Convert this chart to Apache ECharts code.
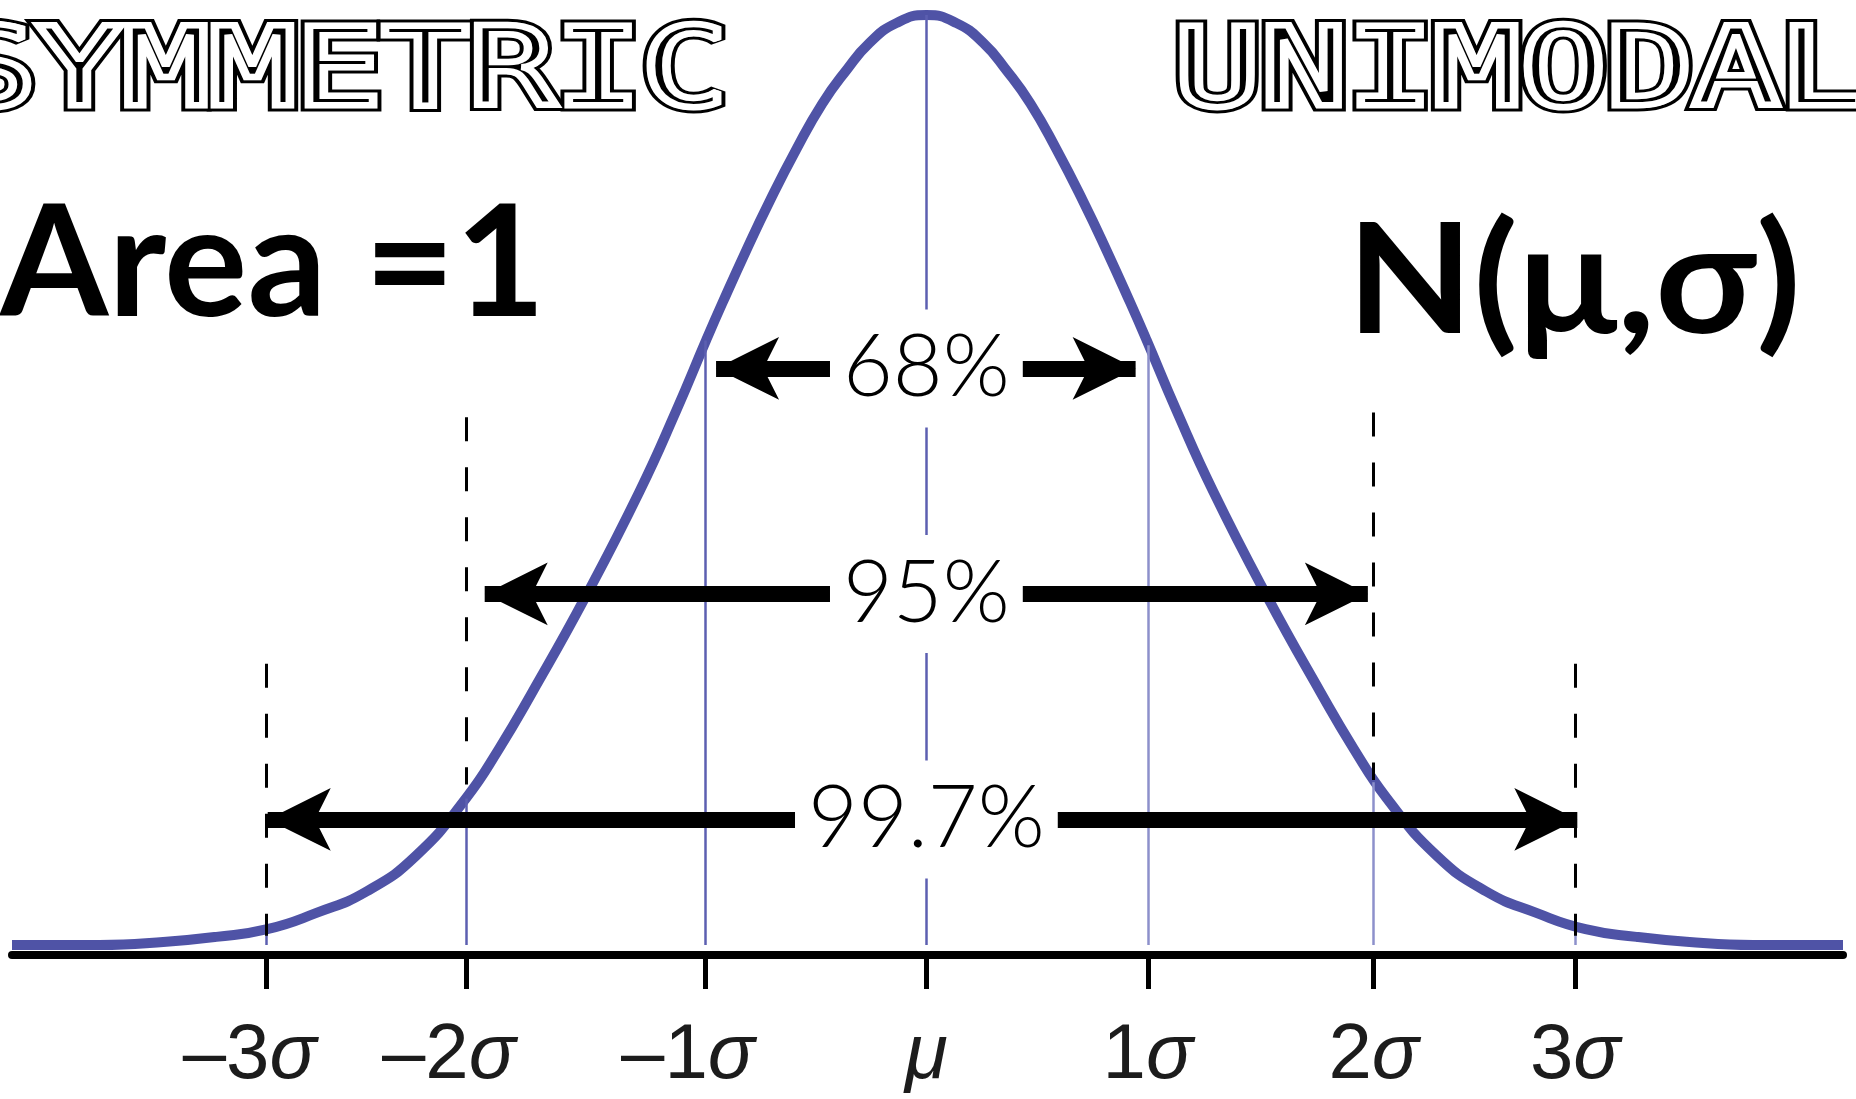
<!DOCTYPE html>
<html>
<head>
<meta charset="utf-8">
<title>Normal distribution</title>
<script src="https://cdn.jsdelivr.net/npm/echarts@6/dist/echarts.min.js"></script>
<style>
  html, body { margin: 0; padding: 0; background: #fff; }
  #chart { width: 1856px; height: 1099px; }
</style>
</head>
<body>
<div id="chart"></div>
<script>
// x in sigma units (as placed in the picture), y = curve height
const curveSigma = [-4.13, -3.735, -3.433, -3.207, -2.977, -2.755, -2.529, -2.304, -2.078, -1.929, -1.780, -1.540, -1.296, -1.129, -0.994, -0.921, -0.813, -0.709, -0.587, -0.470, -0.361, -0.258, -0.136, 0,
  0.136, 0.258, 0.361, 0.470, 0.587, 0.709, 0.813, 0.921, 0.994, 1.129, 1.296, 1.540, 1.780, 1.929, 2.078, 2.304, 2.529, 2.755, 2.977, 3.207, 3.433, 3.735, 4.14];
const curveDensity = [0, 0, 0.0014, 0.0035, 0.0068, 0.0138, 0.0230, 0.0385, 0.0633, 0.0846, 0.1087, 0.1497, 0.1950, 0.2300, 0.2603, 0.2762, 0.2989, 0.3197, 0.3423, 0.3619, 0.3763, 0.3879, 0.3965, 0.4000,
  0.3965, 0.3879, 0.3763, 0.3619, 0.3423, 0.3197, 0.2989, 0.2762, 0.2603, 0.2300, 0.1950, 0.1497, 0.1087, 0.0846, 0.0633, 0.0385, 0.0230, 0.0138, 0.0068, 0.0035, 0.0014, 0, 0];

// tick positions and labels
const sigmaTicks = [-2.98, -2.08, -1.0, 0, 1.0, 2.02, 2.93];
const tickLabels = ['–3σ', '–2σ', '–1σ', 'μ', '1σ', '2σ', '3σ'];
// height where each blue drop line meets the curve
const dropTop = [0.0068, 0.063, 0.260, 0.400, 0.258, 0.070, 0.008];

// dashed guides: x, top, bottom
const guideX = [-2.98, -2.08, 2.02, 2.93];
const guideTop = [0.121, 0.227, 0.229, 0.121];
const guideBottom = [0.004, 0.069, 0.071, 0.004];

// double arrows
const arrowLabels = ['68%', '95%', '99.7%'];
const arrowLevel = [0.248, 0.151, 0.054];
const arrowFrom = [-0.95, -1.995, -2.975];
const arrowTo = [0.945, 1.994, 2.94];

const chart = echarts.init(document.getElementById('chart'));

const tickFont = "'Liberation Sans Narrow', 'Liberation Sans', Arial, sans-serif";

// outline lettering: thin black core, white band, thin black outer ring
function outlined(text, x, y, align) {
  const base = {
    text: text, fontSize: 108, fontFamily: "'DejaVu Sans Mono', monospace",
    align: align, verticalAlign: 'middle', lineJoin: 'round'
  };
  const layers = [
    { fill: '#000', stroke: '#000', lineWidth: 13 },
    { fill: '#fff', stroke: '#fff', lineWidth: 7 },
    { fill: '#000' },
    { fill: 'rgba(0,0,0,0)', stroke: '#fff', lineWidth: 6 }
  ];
  return layers.map((l, i) => ({
    type: 'text', x: x, y: y, scaleX: 1.33, z: 10 + i,
    style: Object.assign({}, base, l)
  }));
}

const dropLines = sigmaTicks.map((x, i) => [
  { coord: [x, 0], lineStyle: { color: x > 0 ? '#8d90cb' : '#5c5fb1' } },
  { coord: [x, dropTop[i]] }
]);
const guideLines = guideX.map((x, i) => [
  { coord: [x, guideTop[i]] },
  { coord: [x, guideBottom[i]] }
]);
const arrowLines = arrowLabels.map((t, i) => [
  { coord: [arrowFrom[i], arrowLevel[i]] },
  { coord: [arrowTo[i], arrowLevel[i]] }
]);

chart.setOption({
  animation: false,
  backgroundColor: '#fff',
  grid: { left: 12, right: 13, top: 15, bottom: 144, containLabel: false, outerBoundsMode: 'none' },
  xAxis: {
    type: 'value',
    min: -4.13,
    max: 4.14,
    splitLine: { show: false },
    axisLine: { show: true, onZero: false, lineStyle: { color: '#000', width: 8 } },
    axisTick: { show: true, customValues: sigmaTicks, length: 34, lineStyle: { color: '#000', width: 5 } },
    axisLabel: {
      customValues: sigmaTicks,
      margin: 62,
      color: '#1c1c1c',
      fontSize: 78,
      fontFamily: tickFont,
      formatter: function (val) {
        let idx = sigmaTicks.findIndex(v => Math.abs(v - val) < 1e-6);
        if (idx < 0) return '';
        let s = tickLabels[idx];
        let tag = sigmaTicks[idx] < 0 ? 'gn' : 'g';
        return s.replace(/[σμ]/, m => '{' + tag + '|' + m + '}');
      },
      rich: {
        g: { fontSize: 78, fontStyle: 'italic', fontFamily: tickFont, color: '#1c1c1c' },
        gn: { fontSize: 78, fontStyle: 'italic', fontFamily: tickFont, color: '#1c1c1c', padding: [0, 34, 0, 0] }
      }
    }
  },
  yAxis: { type: 'value', min: -0.0043, max: 0.4, show: false, splitLine: { show: false } },
  series: [
    {
      name: 'guides',
      type: 'line',
      data: [],
      z: 2,
      markLine: {
        silent: true,
        symbol: 'none',
        label: { show: false },
        lineStyle: { color: '#5c5fb1', width: 2.5, type: 'solid' },
        data: dropLines
      }
    },
    {
      name: 'curve',
      type: 'line',
      data: curveSigma.map((x, i) => [x, curveDensity[i]]),
      smooth: 0.5,
      symbol: 'none',
      z: 3,
      lineStyle: { color: '#4f53a6', width: 10 }
    },
    {
      name: 'dashed',
      type: 'line',
      data: [],
      z: 4,
      markLine: {
        silent: true,
        symbol: 'none',
        label: { show: false },
        lineStyle: { color: '#000', width: 3, type: [24, 26] },
        data: guideLines
      }
    },
    {
      name: 'arrows',
      type: 'line',
      data: [],
      z: 5,
      markLine: {
        silent: true,
        symbol: ['arrow', 'arrow'],
        symbolSize: [47, 63],
        label: { show: false },
        lineStyle: { color: '#000', width: 16, type: 'solid' },
        data: arrowLines
      }
    },
    {
      name: 'percent',
      type: 'scatter',
      z: 6,
      symbolSize: 1,
      itemStyle: { color: 'rgba(0,0,0,0)', opacity: 1 },
      data: arrowLabels.map((t, i) => [0, arrowLevel[i], t]),
      label: {
        show: true,
        position: 'inside',
        formatter: p => p.value[2],
        fontFamily: "Lato, 'Noto Sans', sans-serif",
        fontWeight: 300,
        fontSize: 86,
        color: '#000',
        opacity: 1,
        backgroundColor: '#fff',
        padding: [16, 13, 16, 13]
      }
    }
  ],
  graphic: [
    ...outlined('SYMMETRIC', 728, 77, 'right'),
    ...outlined('UNIMODAL', 1174, 77, 'left'),
    { type: 'text', x: 0, y: 266, z: 10,
      style: { text: 'Area =1', fontSize: 156, fontWeight: 700, fontFamily: "Lato, 'Noto Sans', sans-serif",
        fill: '#000', align: 'left', verticalAlign: 'middle' } },
    { type: 'text', x: 1347, y: 284, z: 10, scaleX: 1.07,
      style: { text: 'N(μ,σ)', fontSize: 153, fontWeight: 700, fontFamily: "Lato, 'Noto Sans', sans-serif",
        fill: '#000', align: 'left', verticalAlign: 'middle' } }
  ]
});
</script>
</body>
</html>
